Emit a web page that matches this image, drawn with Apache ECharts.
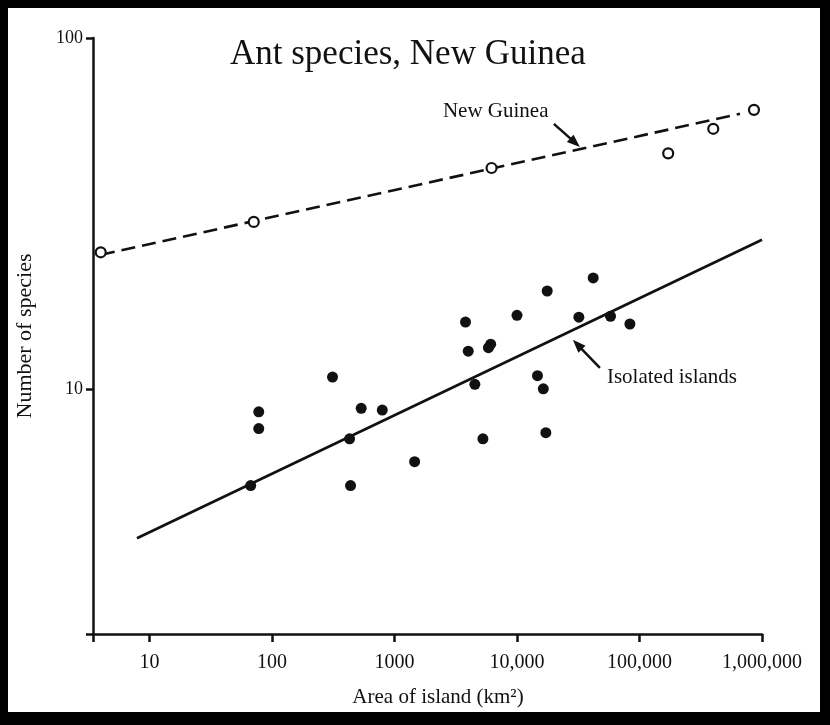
<!DOCTYPE html>
<html>
<head>
<meta charset="utf-8">
<script src="https://cdn.jsdelivr.net/npm/echarts@6/dist/echarts.min.js"></script>
<style>
html,body{margin:0;padding:0;background:#000;}
#c{width:830px;height:725px;}
</style>
</head>
<body>
<div id="c"></div>
<script>
// ---- text ----
const titleText = 'Ant species, New Guinea';
const xAxisName = 'Area of island (km\u00B2)';
const yAxisName = 'Number of species';

// ---- axis ranges and tick labels ----
const xMin = 3.46, xMax = 1000000;
const yMin = 2, yMax = 100;
const xTickValues = [10, 100, 1000, 10000, 100000, 1000000];
const xTickLabels = ['10', '100', '1000', '10,000', '100,000', '1,000,000'];
const yTickValues = [10, 100];
const yTickLabels = ['10', '100'];

// ---- New Guinea (open circles) ----
const newGuineaArea    = [4.0, 71, 6200, 171500, 400000, 860000];
const newGuineaSpecies = [24.5, 29.9, 42.6, 46.9, 55.1, 62.4];

// ---- Isolated islands (filled dots) ----
const islandArea = [41900, 17650, 10000, 32000, 58000, 83500, 3800, 4000, 6100, 5850,
                    312, 14700, 16400, 4530, 78, 78, 535, 795, 430, 17200,
                    5270, 1460, 67, 438];
const islandSpecies = [20.7, 19.0, 16.2, 16.0, 16.1, 15.3, 15.5, 12.8, 13.4, 13.1,
                       10.8, 10.9, 10.0, 10.3, 8.6, 7.7, 8.8, 8.7, 7.2, 7.5,
                       7.2, 6.2, 5.3, 5.3];

// ---- fitted lines (end points) ----
const newGuineaFitArea    = [4.02, 661000];
const newGuineaFitSpecies = [24.1, 60.8];
const islandFitArea       = [7.9, 1000000];
const islandFitSpecies    = [3.75, 26.6];

// ---- annotations (data coordinates) ----
const annotationTexts = ['New Guinea', 'Isolated islands'];
const annotationTextAt = [[2485, 61.9], [54200, 10.75]];
const annotationArrowFrom = [[20000, 56.9], [47500, 11.48]];
const annotationArrowTo = [[32650, 48.9], [28600, 13.79]];

const zip = (a, b) => a.map((v, i) => [v, b[i]]);
const FONT = '"Liberation Serif", "Times New Roman", serif';
const INK = '#111';

function tickLabel(values, labels) {
  return function (v) {
    const i = values.findIndex(t => Math.abs(t - v) / t < 1e-6);
    return i >= 0 ? labels[i] : '';
  };
}

const chart = echarts.init(document.getElementById('c'), null, {renderer: 'canvas'});

const option = {
  animation: false,
  backgroundColor: '#000',
  title: {
    text: titleText,
    left: 230,
    top: 37,
    padding: 0,
    textStyle: {fontFamily: FONT, fontSize: 35, fontWeight: 'normal', color: INK}
  },
  grid: {left: 93, top: 38, right: 68, bottom: 91, containLabel: false, outerBoundsMode: 'none'},
  xAxis: {
    type: 'log',
    logBase: 10,
    min: xMin,
    max: xMax,
    name: xAxisName,
    nameLocation: 'middle',
    nameGap: 53,
    nameTextStyle: {fontFamily: FONT, fontSize: 21, color: INK, padding: [0, 0, 0, 21]},
    axisLine: {show: true, onZero: false, lineStyle: {color: INK, width: 2.5}},
    axisTick: {show: true, length: 8, lineStyle: {color: INK, width: 2.5}},
    axisLabel: {
      show: true, margin: 19, color: INK, fontFamily: FONT, fontSize: 20,
      formatter: tickLabel(xTickValues, xTickLabels)
    },
    splitLine: {show: false},
    minorTick: {show: false},
    minorSplitLine: {show: false}
  },
  yAxis: {
    type: 'log',
    logBase: 10,
    min: yMin,
    max: yMax,
    name: yAxisName,
    nameLocation: 'middle',
    nameGap: 57,
    nameTextStyle: {fontFamily: FONT, fontSize: 22, color: INK},
    axisLine: {show: true, onZero: false, lineStyle: {color: INK, width: 2.5}},
    axisTick: {show: true, length: 7, lineStyle: {color: INK, width: 2.5}},
    axisLabel: {
      show: true, margin: 10, color: INK, fontFamily: FONT, fontSize: 18,
      formatter: tickLabel(yTickValues, yTickLabels)
    },
    splitLine: {show: false},
    minorTick: {show: false},
    minorSplitLine: {show: false}
  },
  series: [
    {
      name: 'New Guinea fit',
      type: 'line',
      data: zip(newGuineaFitArea, newGuineaFitSpecies),
      showSymbol: false,
      symbol: 'none',
      lineStyle: {color: INK, width: 2.6, type: [14, 7]},
      silent: true,
      z: 2
    },
    {
      name: 'Isolated islands fit',
      type: 'line',
      data: zip(islandFitArea, islandFitSpecies),
      showSymbol: false,
      symbol: 'none',
      lineStyle: {color: INK, width: 2.6, type: 'solid'},
      silent: true,
      z: 2
    },
    {
      name: 'New Guinea',
      type: 'scatter',
      data: zip(newGuineaArea, newGuineaSpecies),
      symbol: 'circle',
      symbolSize: 10,
      itemStyle: {color: '#fff', borderColor: INK, borderWidth: 2.2, opacity: 1},
      z: 3
    },
    {
      name: 'Isolated islands',
      type: 'scatter',
      data: zip(islandArea, islandSpecies),
      symbol: 'circle',
      symbolSize: 11,
      itemStyle: {color: INK, opacity: 1},
      z: 3
    }
  ]
};

chart.setOption(option);

// background panel + annotations (placed through the chart's own coordinate conversion)
const graphics = [{
  type: 'rect',
  shape: {x: 8, y: 8, width: 812, height: 704},
  style: {fill: '#fff'},
  z: -10,
  silent: true
}];

annotationTexts.forEach((t, i) => {
  const p = chart.convertToPixel({gridIndex: 0}, annotationTextAt[i]);
  graphics.push({
    type: 'text',
    x: p[0], y: p[1],
    style: {text: t, fill: INK, font: '21px ' + FONT, textAlign: 'left', textVerticalAlign: 'middle'},
    silent: true, z: 10
  });
  const f = chart.convertToPixel({gridIndex: 0}, annotationArrowFrom[i]);
  const to = chart.convertToPixel({gridIndex: 0}, annotationArrowTo[i]);
  const dx = to[0] - f[0], dy = to[1] - f[1];
  const len = Math.hypot(dx, dy);
  const ux = dx / len, uy = dy / len, nx = -uy, ny = ux;
  const L = 13, W = 5;
  const bx = to[0] - ux * L, by = to[1] - uy * L;
  graphics.push({
    type: 'line',
    shape: {x1: f[0], y1: f[1], x2: to[0] - ux * L * 0.5, y2: to[1] - uy * L * 0.5},
    style: {stroke: INK, lineWidth: 2.5},
    silent: true, z: 10
  });
  graphics.push({
    type: 'polygon',
    shape: {points: [[to[0], to[1]], [bx + nx * W, by + ny * W], [bx - nx * W, by - ny * W]]},
    style: {fill: INK},
    silent: true, z: 10
  });
});

chart.setOption({graphic: {elements: graphics}});
</script>
</body>
</html>
